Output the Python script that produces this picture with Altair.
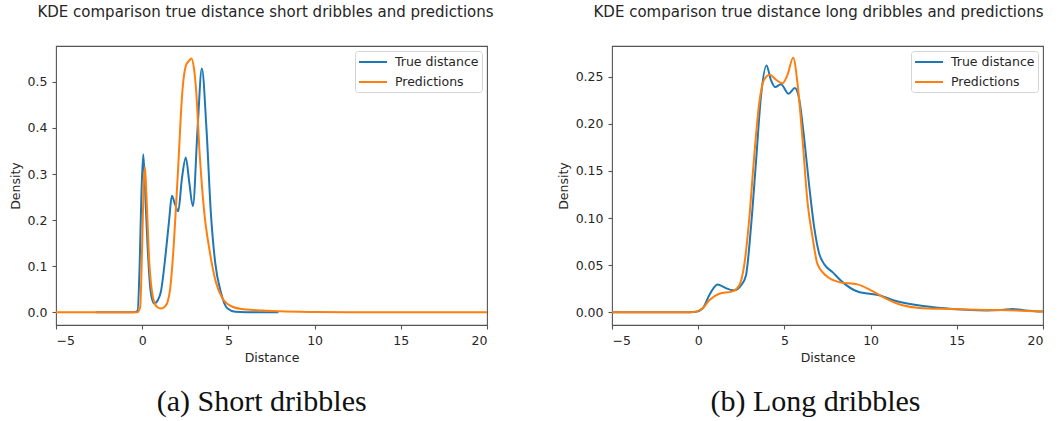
import altair as alt
import pandas as pd

SERIES = ["True distance", "Predictions"]
COLORS = ["#1f77b4", "#ff7f0e"]

# Short dribbles: KDE of the true distance
short_true_x = [-2.7, -0.5, -0.27, -0.15, -0.05, 0.06, 0.15, 0.31, 0.45, 0.6, 0.7, 0.9,
                1.08, 1.37, 1.57, 1.72, 1.9, 2.09, 2.3, 2.53, 2.73, 2.94, 3.21, 3.46,
                3.73, 3.98, 4.23, 4.56, 4.95, 5.4, 6.0, 7.9]
short_true_y = [0.0, 0.0, 0.003, 0.1, 0.25, 0.343, 0.28, 0.145, 0.06, 0.025, 0.019, 0.026,
                0.044, 0.13, 0.203, 0.253, 0.235, 0.219, 0.289, 0.336, 0.282, 0.23, 0.397, 0.529,
                0.397, 0.217, 0.109, 0.044, 0.008, 0.001, 0.0, 0.0]

# Short dribbles: KDE of the predictions
short_pred_x = [-5.0, -0.3, -0.12, 0.0, 0.08, 0.16, 0.25, 0.41, 0.64, 0.85, 1.08, 1.3,
                1.47, 1.62, 1.76, 2.05, 2.34, 2.53, 2.7, 2.86, 3.0, 3.11, 3.34, 3.6,
                3.89, 4.27, 4.66, 5.24, 6.0, 7.0, 8.0, 10.0, 12.0, 20.0]
short_pred_y = [0.0, 0.0, 0.01, 0.15, 0.27, 0.315, 0.25, 0.109, 0.03, 0.012, 0.008, 0.012,
                0.022, 0.05, 0.109, 0.289, 0.484, 0.535, 0.545, 0.551, 0.53, 0.491, 0.34, 0.217,
                0.138, 0.066, 0.03, 0.012, 0.006, 0.004, 0.002, 0.0005, 0.0, 0.0]

# Long dribbles: KDE of the true distance
long_true_x = [-5.0, -0.5, -0.13, 0.25, 0.64, 0.9, 1.12, 1.35, 1.6, 2.09, 2.48, 2.77,
               3.05, 3.35, 3.64, 3.96, 4.21, 4.47, 4.8, 5.24, 5.61, 5.86, 6.15, 6.44,
               6.73, 7.02, 7.31, 7.79, 8.37, 9.24, 10.5, 11.47, 13.2, 14.75, 16.7, 17.6,
               18.23, 19.0, 20.0]
long_true_y = [0.0, 0.0, 0.0005, 0.004, 0.018, 0.026, 0.0296, 0.028, 0.0257, 0.0233, 0.0285, 0.039,
               0.088, 0.159, 0.229, 0.262, 0.247, 0.239, 0.242, 0.232, 0.238, 0.226, 0.184, 0.134,
               0.09, 0.062, 0.051, 0.0426, 0.032, 0.022, 0.018, 0.012, 0.0063, 0.0035, 0.002, 0.0025,
               0.0035, 0.002, 0.0007]

# Long dribbles: KDE of the predictions
long_pred_x = [-5.0, -0.4, 0.0, 0.25, 0.64, 1.22, 1.99, 2.38, 2.67, 2.96, 3.25, 3.54,
               3.83, 4.16, 4.5, 4.89, 5.18, 5.51, 5.76, 6.05, 6.34, 6.63, 6.92, 7.41,
               8.18, 9.24, 10.02, 10.89, 11.85, 12.82, 14.56, 16.7, 18.43, 20.0]
long_pred_y = [0.0, 0.0, 0.0015, 0.004, 0.0127, 0.0197, 0.0222, 0.0285, 0.05, 0.099, 0.166, 0.222,
               0.247, 0.252, 0.247, 0.243, 0.252, 0.27, 0.243, 0.184, 0.117, 0.08, 0.051, 0.039,
               0.032, 0.0296, 0.0233, 0.0145, 0.0074, 0.0046, 0.0035, 0.0025, 0.002, 0.0007]

X_TICKS = [-5, 0, 5, 10, 15, 20]
SHORT_Y_TICKS = [0.0, 0.1, 0.2, 0.3, 0.4, 0.5]
LONG_Y_TICKS = [0.0, 0.05, 0.10, 0.15, 0.20, 0.25]

TEXT = "#262626"
FONT = "DejaVu Sans"
PLOT_W, PLOT_H = 431, 279


def frame(xs, ys, name):
    return pd.DataFrame({"Distance": xs, "Density": ys, "series": name})


def panel(true_df, pred_df, title, y_domain, y_ticks, y_fmt, caption, caption_x, title_dx):
    data = pd.concat([true_df, pred_df], ignore_index=True)
    lines = alt.Chart(data).mark_line(strokeWidth=2, interpolate="monotone", clip=True).encode(
        x=alt.X("Distance:Q",
                scale=alt.Scale(domain=[-5, 20], nice=False, zero=False),
                axis=alt.Axis(values=X_TICKS, format="d",
                              labelExpr="replace(datum.label, '-', '\u2212')",
                              title="Distance")),
        y=alt.Y("Density:Q",
                scale=alt.Scale(domain=y_domain, nice=False, zero=False),
                axis=alt.Axis(values=y_ticks, format=y_fmt, title="Density")),
        color=alt.Color("series:N",
                        scale=alt.Scale(domain=SERIES, range=COLORS),
                        sort=SERIES,
                        legend=alt.Legend(title=None, orient="top-right", offset=5,
                                          symbolType="M-1,0H3", symbolSize=196,
                                          symbolStrokeWidth=2, labelFont=FONT,
                                          labelFontSize=12.5, labelColor=TEXT,
                                          padding=3, rowPadding=5, labelOffset=21,
                                          strokeColor="#d4d4d4", fillColor="white",
                                          cornerRadius=3)),
        detail="series:N",
    )
    cap = alt.Chart(pd.DataFrame({"caption": [caption]})).mark_text(
        font="Liberation Serif", fontSize=30, align="center", baseline="alphabetic",
        color="#111111",
    ).encode(x=alt.value(caption_x), y=alt.value(365), text="caption:N")
    return alt.layer(lines, cap).properties(
        width=PLOT_W, height=PLOT_H,
        title=alt.Title(title, font=FONT, fontSize=15, fontWeight="normal", color=TEXT,
                        anchor="middle", frame="group", baseline="alphabetic",
                        offset=14, dx=title_dx),
    )


left = panel(frame(short_true_x, short_true_y, SERIES[0]),
             frame(short_pred_x, short_pred_y, SERIES[1]),
             "KDE comparison true distance short dribbles and predictions",
             [-0.0276, 0.5779], SHORT_Y_TICKS, ".1f", "(a) Short dribbles", 205.7, -6)

right = panel(frame(long_true_x, long_true_y, SERIES[0]),
              frame(long_pred_x, long_pred_y, SERIES[1]),
              "KDE comparison true distance long dribbles and predictions",
              [-0.0135, 0.2826], LONG_Y_TICKS, ".2f", "(b) Long dribbles", 203.5, -9)

chart = alt.hconcat(left, right, spacing=61).resolve_scale(
    x="independent", y="independent", color="independent"
).resolve_legend(color="independent").properties(
    padding={"left": 8, "top": 4, "right": 0, "bottom": 0},
    background="white",
).configure_view(
    stroke="#555555", strokeWidth=1.1,
).configure_axis(
    grid=False, domain=False, tickColor="#555555", tickSize=4, tickWidth=1.1,
    labelPadding=5, labelFont=FONT, labelFontSize=12.5, labelColor=TEXT,
    titleFont=FONT, titleFontSize=12.5, titleFontWeight="normal", titleColor=TEXT,
    titlePadding=5,
)

chart.save("out.html", embed_options={"renderer": "svg", "actions": False})
